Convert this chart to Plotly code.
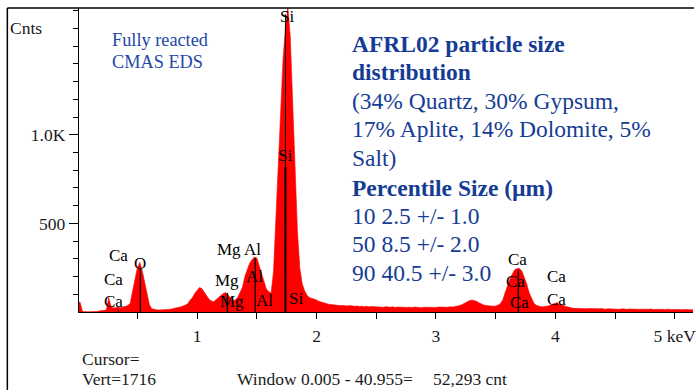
import plotly.graph_objects as go

# ---------------- data ----------------
energy_step_kev = 0.02
counts = [
    55, 55, 3, 1, 1, 2, 1, 2, 3, 5,                    # 0.00-0.18
    9, 8, 12, 80, 28, 22, 25, 27, 24, 28,              # 0.20-0.38
    30, 36, 50, 110, 185, 250, 280, 235, 170, 100,     # 0.40-0.58
    42, 18, 14, 12, 11, 12, 13, 12, 15, 16,            # 0.60-0.78
    20, 22, 26, 28, 33, 38, 45, 65, 80, 105,           # 0.80-0.98
    125, 138, 132, 110, 90, 72, 62, 58, 70, 82,        # 1.00-1.18
    92, 105, 110, 95, 75, 65, 68, 82, 110, 140,        # 1.20-1.38
    200, 240, 275, 295, 310, 305, 260, 215, 165, 130,  # 1.40-1.58
    115, 107, 230, 520, 800, 1098, 1430, 1610, 1716, 1560,  # 1.60-1.78
    1180, 830, 460, 250, 160, 120, 95, 82, 78, 76,     # 1.80-1.98
    68, 60, 55, 50, 46, 44, 42, 40, 38, 40,            # 2.00-2.18
    36, 37, 35, 34, 36, 33, 32, 34, 31, 33,            # 2.20-2.38
    30, 32, 29, 31, 30, 28, 31, 29, 27, 30,            # 2.40-2.58
    28, 27, 29, 26, 28, 27, 25, 28, 26, 27,            # 2.60-2.78
    25, 28, 26, 27, 24, 27, 26, 28, 25, 27,            # 2.80-2.98
    26, 28, 27, 26, 29, 27, 30, 28, 31, 33,            # 3.00-3.18
    36, 42, 50, 58, 64, 68, 66, 60, 52, 45,            # 3.20-3.38
    40, 36, 34, 32, 33, 34, 38, 48, 68, 110,           # 3.40-3.58
    150, 185, 215, 238, 246, 245, 230, 200, 160, 110,  # 3.60-3.78
    75, 50, 38, 32, 30, 29, 31, 34, 40, 46,            # 3.80-3.98
    50, 48, 45, 40, 33, 28, 25, 22, 21, 20,            # 4.00-4.18
    22, 19, 21, 18, 20, 19, 17, 19, 18, 20,            # 4.20-4.38
    17, 16, 18, 17, 19, 16, 17, 15, 18, 16,            # 4.40-4.58
    15, 17, 16, 14, 17, 15, 16, 14, 16, 15,            # 4.60-4.78
    17, 14, 15, 16, 14, 15, 13, 16, 14, 15,            # 4.80-4.98
    13, 15, 14, 13, 15, 14, 13, 14, 13,                # 5.00-5.16
]
energies = [round(i * energy_step_kev, 3) for i in range(len(counts))]

# KLM marker lines: (energy keV, height counts, width)
marker_energy = [0.341, 0.525, 1.254, 1.487, 1.740, 1.740, 3.690]
marker_height = [12, 250, 107, 305, 1680, 818, 237]
marker_width = [1, 1.3, 1.5, 1.3, 1, 2, 1.3]

x_tickvals = [0.5, 1, 1.5, 2, 2.5, 3, 3.5, 4, 4.5, 5]
x_ticktext = ["", "1", "", "2", "", "3", "", "4", "", "5 keV"]
y_tickvals = [500, 1000, 1500]
y_ticktext = ["500", "1.0K", ""]
y_minor_vals = list(range(100, 1800, 100))

# peak labels: (text, pixel x, pixel y)
peak_labels = [
    ("Ca", 119, 255), ("O", 140, 263), ("Ca", 114, 279), ("Ca", 114, 301),
    ("Mg Al", 240, 249), ("Mg", 228, 280), ("Al", 255, 276),
    ("Mg", 233, 301), ("Al", 265, 300),
    ("Si", 288, 17), ("Si", 286, 155), ("Si", 297, 298),
    ("Ca", 520, 259), ("Ca", 518, 281), ("Ca", 522, 302),
    ("Ca", 559, 276), ("Ca", 559, 299),
]

info_lines = [
    ("<b>AFRL02 particle size</b>", 44),
    ("<b>distribution</b>", 72),
    ("(34% Quartz, 30% Gypsum,", 101),
    ("17% Aplite, 14% Dolomite, 5%", 129),
    ("Salt)", 158),
    ("<b>Percentile Size (µm)</b>", 188),
    ("10 2.5 +/- 1.0", 216),
    ("50 8.5 +/- 2.0", 244),
    ("90 40.5 +/- 3.0", 273),
]

# ---------------- figure ----------------
W, H = 696, 390
L, R, T, B = 79, 0, 8, 78
PW, PH = W - L - R, H - T - B


def px(x):
    return (x - L) / PW


def py(y):
    return (H - B - y) / PH


SERIF = "Liberation Serif"
BLUE = "#153c94"
TXT = "#1a1a1a"

fig = go.Figure()
fig.add_trace(go.Scatter(
    x=energies, y=counts, mode="lines", fill="tozeroy",
    fillcolor="#ff0000", line=dict(color="#ff0000", width=0.6),
    hoverinfo="skip", cliponaxis=True,
))

shapes = []
for e, h, w in zip(marker_energy, marker_height, marker_width):
    shapes.append(dict(type="line", xref="x", yref="y", x0=e, x1=e, y0=0, y1=h,
                       line=dict(color="black", width=w)))
# outer frame (top + left)
shapes.append(dict(type="line", xref="paper", yref="paper", x0=px(7), x1=px(697),
                   y0=py(8), y1=py(8), line=dict(color="black", width=1.5)))
shapes.append(dict(type="line", xref="paper", yref="paper", x0=px(7), x1=px(7),
                   y0=py(8), y1=py(392), line=dict(color="black", width=1.5)))

ann = []
for t, x, y in peak_labels:
    ann.append(dict(text=t, x=px(x), y=py(y), xref="paper", yref="paper",
                    xanchor="center", yanchor="middle", showarrow=False,
                    font=dict(family=SERIF, size=17, color="black")))

for t, y in info_lines:
    ann.append(dict(text=t, x=px(351), y=py(y), xref="paper", yref="paper",
                    xanchor="left", yanchor="middle", showarrow=False,
                    font=dict(family=SERIF, size=23.5, color=BLUE)))

ann.append(dict(text="Fully reacted", x=px(110), y=py(40), xref="paper", yref="paper",
                xanchor="left", yanchor="middle", showarrow=False,
                font=dict(family=SERIF, size=18.3, color="#2446a8")))
ann.append(dict(text="CMAS EDS", x=px(110), y=py(62), xref="paper", yref="paper",
                xanchor="left", yanchor="middle", showarrow=False,
                font=dict(family=SERIF, size=18.3, color="#2446a8")))

ann.append(dict(text="Cnts", x=px(8), y=py(28), xref="paper", yref="paper",
                xanchor="left", yanchor="middle", showarrow=False,
                font=dict(family=SERIF, size=17.5, color=TXT)))
ann.append(dict(text="Cursor=", x=px(80), y=py(359), xref="paper", yref="paper",
                xanchor="left", yanchor="middle", showarrow=False,
                font=dict(family=SERIF, size=17.5, color=TXT)))
ann.append(dict(text="Vert=1716", x=px(80), y=py(379), xref="paper", yref="paper",
                xanchor="left", yanchor="middle", showarrow=False,
                font=dict(family=SERIF, size=17.5, color=TXT)))
ann.append(dict(text="Window 0.005 - 40.955=", x=px(236), y=py(379), xref="paper",
                yref="paper", xanchor="left", yanchor="middle", showarrow=False,
                font=dict(family=SERIF, size=17.5, color=TXT)))
ann.append(dict(text="52,293 cnt", x=px(433), y=py(379), xref="paper", yref="paper",
                xanchor="left", yanchor="middle", showarrow=False,
                font=dict(family=SERIF, size=17.5, color=TXT)))

fig.update_layout(
    width=W, height=H,
    margin=dict(l=L, r=R, t=T, b=B, pad=0),
    paper_bgcolor="white", plot_bgcolor="white",
    showlegend=False,
    shapes=shapes, annotations=ann,
    xaxis=dict(range=[0.011, 5.153], showgrid=False, zeroline=False,
               showline=True, linecolor="black", linewidth=1.3,
               ticks="outside", ticklen=6, tickcolor="black", tickwidth=1,
               tickvals=x_tickvals, ticktext=x_ticktext,
               ticklabelstandoff=2, ticklabeloverflow="allow",
               tickfont=dict(family=SERIF, size=17.5, color=TXT)),
    yaxis=dict(range=[0, 1716], showgrid=False, zeroline=False,
               showline=True, linecolor="black", linewidth=1.3,
               ticks="outside", ticklen=9, tickcolor="black", tickwidth=1,
               tickvals=y_tickvals, ticktext=y_ticktext,
               minor=dict(tickvals=y_minor_vals, ticklen=5, ticks="outside",
                          tickcolor="black", tickwidth=1),
               tickfont=dict(family=SERIF, size=17.5, color=TXT)),
)

fig.write_html("out.html")
